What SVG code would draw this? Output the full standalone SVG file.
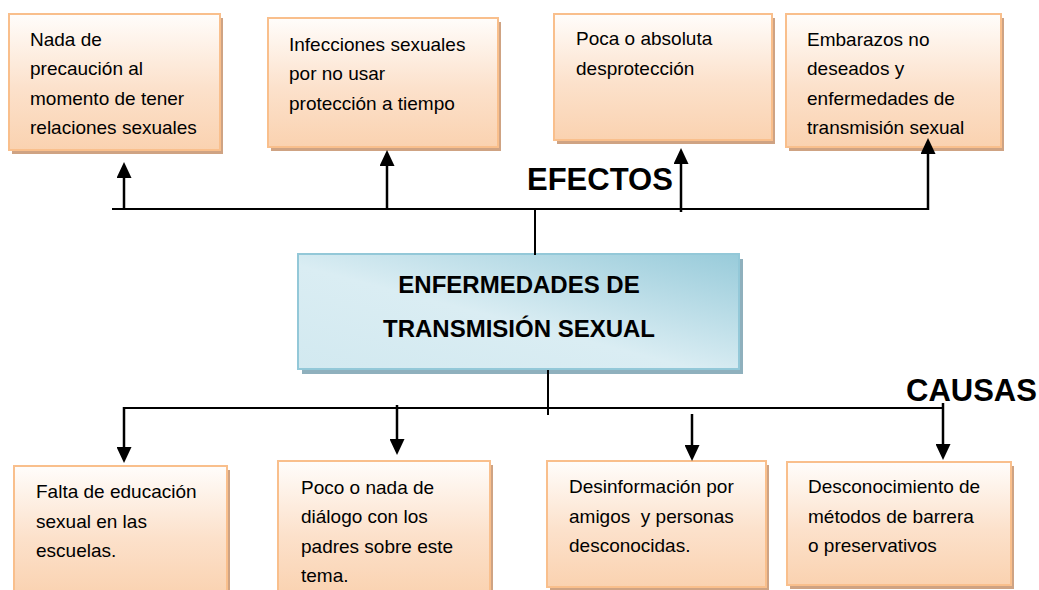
<svg xmlns="http://www.w3.org/2000/svg" width="1039" height="590" viewBox="0 0 1039 590">
<style>
.bx{fill:url(#peach);stroke:#f9bf8c;stroke-width:2}
.sh{fill:#cfa383}
.t{font-family:"Liberation Sans",Arial,sans-serif;font-size:19px;fill:#000;white-space:pre}
.ct{font-family:"Liberation Sans",Arial,sans-serif;font-size:24px;font-weight:bold;fill:#000;text-anchor:middle}
.lb{font-family:"Liberation Sans",Arial,sans-serif;font-size:31px;font-weight:bold;fill:#000}
.ln{stroke:#000;stroke-width:2;fill:none}
.ar{stroke:#000;stroke-width:2.5;fill:none;marker-end:url(#ah)}
</style>
<defs>
<linearGradient id="peach" x1="0" y1="0" x2="0" y2="1">
<stop offset="0" stop-color="#fffdfb"/>
<stop offset="0.55" stop-color="#fce1cb"/>
<stop offset="1" stop-color="#fad2b0"/>
</linearGradient>
<linearGradient id="blue" x1="0" y1="1" x2="1" y2="0">
<stop offset="0" stop-color="#d2e9f0"/>
<stop offset="0.45" stop-color="#daedf3"/>
<stop offset="1" stop-color="#98cbda"/>
</linearGradient>
<marker id="ah" viewBox="0 0 16 15" refX="12" refY="7.5" markerWidth="16" markerHeight="15" orient="auto" markerUnits="userSpaceOnUse">
<path d="M0,0 L16,7.5 L0,15 Z" fill="#000"/>
</marker>
</defs>
<rect width="1039" height="590" fill="#fff"/>

<g id="center">
<rect x="302" y="259" width="441" height="115" fill="#8fb0bd"/>
<rect x="298" y="254" width="441" height="115" fill="url(#blue)" stroke="#93c8d8" stroke-width="2"/>
<text class="ct" x="519" y="293">ENFERMEDADES DE</text>
<text class="ct" x="519" y="337">TRANSMISIÓN SEXUAL</text>
</g>

<g id="efecto1">
<rect class="sh" x="12" y="18" width="211" height="136"/>
<rect class="bx" x="9" y="14" width="211" height="136"/>
<text class="t" x="30" y="46">Nada de</text>
<text class="t" x="30" y="75">precaución al</text>
<text class="t" x="30" y="105">momento de tener</text>
<text class="t" x="30" y="134">relaciones sexuales</text>
</g>
<g id="efecto2">
<rect class="sh" x="271" y="22" width="230" height="129"/>
<rect class="bx" x="268" y="18" width="230" height="129"/>
<text class="t" x="289" y="51">Infecciones sexuales</text>
<text class="t" x="289" y="80">por no usar</text>
<text class="t" x="289" y="110">protección a tiempo</text>
</g>
<g id="efecto3">
<rect class="sh" x="557" y="18" width="218" height="126"/>
<rect class="bx" x="554" y="14" width="218" height="126"/>
<text class="t" x="576" y="45">Poca o absoluta</text>
<text class="t" x="576" y="75">desprotección</text>
</g>
<g id="efecto4">
<rect class="sh" x="789" y="18" width="215" height="133"/>
<rect class="bx" x="786" y="14" width="215" height="133"/>
<text class="t" x="807" y="46">Embarazos no</text>
<text class="t" x="807" y="75">deseados y</text>
<text class="t" x="807" y="105">enfermedades de</text>
<text class="t" x="807" y="134">transmisión sexual</text>
</g>

<g id="causa1">
<rect class="sh" x="17" y="470" width="213" height="130"/>
<rect class="bx" x="14" y="466" width="213" height="130"/>
<text class="t" x="36" y="498">Falta de educación</text>
<text class="t" x="36" y="528">sexual en las</text>
<text class="t" x="36" y="557">escuelas.</text>
</g>
<g id="causa2">
<rect class="sh" x="281" y="465" width="212" height="135"/>
<rect class="bx" x="278" y="461" width="212" height="135"/>
<text class="t" x="301" y="494">Poco o nada de</text>
<text class="t" x="301" y="523">diálogo con los</text>
<text class="t" x="301" y="553">padres sobre este</text>
<text class="t" x="301" y="582">tema.</text>
</g>
<g id="causa3">
<rect class="sh" x="550" y="465" width="219" height="126"/>
<rect class="bx" x="547" y="461" width="219" height="126"/>
<text class="t" x="569" y="493">Desinformación por</text>
<text class="t" x="569" y="523">amigos  y personas</text>
<text class="t" x="569" y="552">desconocidas.</text>
</g>
<g id="causa4">
<rect class="sh" x="790" y="466" width="224" height="123"/>
<rect class="bx" x="787" y="462" width="224" height="123"/>
<text class="t" x="808" y="493">Desconocimiento de</text>
<text class="t" x="808" y="523">métodos de barrera</text>
<text class="t" x="808" y="552">o preservativos</text>
</g>

<g id="connectors">
<line class="ln" x1="112" y1="209" x2="929" y2="209"/>
<line class="ln" x1="535" y1="209" x2="535" y2="255"/>
<line class="ar" x1="124" y1="210" x2="124" y2="166"/>
<line class="ar" x1="387" y1="210" x2="387" y2="154"/>
<line class="ar" x1="681" y1="212" x2="681" y2="152"/>
<line class="ar" x1="928" y1="210" x2="928" y2="142"/>
<line class="ln" x1="123" y1="408" x2="944" y2="408"/>
<line class="ln" x1="548" y1="370" x2="548" y2="415"/>
<line class="ar" x1="124" y1="407" x2="124" y2="459"/>
<line class="ar" x1="397" y1="405" x2="397" y2="451"/>
<line class="ar" x1="692" y1="414" x2="692" y2="457"/>
<line class="ar" x1="943" y1="403" x2="943" y2="456"/>
</g>

<text class="lb" x="527" y="190">EFECTOS</text>
<text class="lb" x="906" y="401">CAUSAS</text>
</svg>
